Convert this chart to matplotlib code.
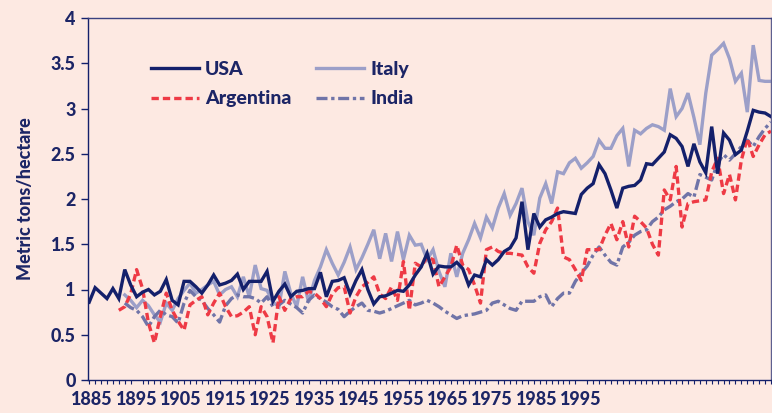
import numpy as np
import matplotlib
matplotlib.use("Agg")
import matplotlib.pyplot as plt

years = np.arange(1885, 2001)

usa = [0.86, 1.02, 0.96, 0.90, 1.01, 0.90, 1.22, 1.05, 0.92, 0.97,
       1.00, 0.94, 0.98, 1.11, 0.88, 0.83, 1.09, 1.09, 1.03, 0.96,
       1.05, 1.16, 1.05, 1.07, 1.10, 1.17, 1.00, 1.09, 1.09, 1.09,
       1.20, 0.87, 0.98, 1.06, 0.92, 0.98, 0.99, 1.01, 1.01, 1.19,
       0.92, 1.09, 1.10, 1.13, 0.95, 1.10, 1.22, 1.00, 0.84, 0.92,
       0.93, 0.96, 0.99, 0.98, 1.05, 1.16, 1.25, 1.40, 1.17, 1.26,
       1.25, 1.25, 1.30, 1.23, 1.05, 1.16, 1.14, 1.33, 1.27, 1.33,
       1.42, 1.46, 1.57, 1.97, 1.44, 1.84, 1.69, 1.77, 1.80, 1.84,
       1.86, 1.85, 1.84, 2.05, 2.12, 2.17, 2.38, 2.28, 2.10, 1.90,
       2.12, 2.14, 2.15, 2.21, 2.39, 2.38, 2.45, 2.52, 2.71, 2.67,
       2.58, 2.36, 2.61, 2.41, 2.29, 2.80, 2.28, 2.73, 2.65, 2.49,
       2.54, 2.75, 2.98, 2.96, 2.95, 2.91]

italy_start = 1891
italy = [0.94, 0.88, 0.80, 0.88, 0.82, 0.72, 0.64, 0.85, 0.77, 0.90,
         0.99, 1.07, 0.96, 1.00, 1.05, 1.09, 0.94, 1.00, 1.03, 0.92,
         1.14, 0.92, 1.27, 1.01, 0.99, 0.86, 0.81, 1.20, 0.96, 0.81,
         1.14, 0.86, 1.10, 1.25, 1.44, 1.29, 1.16, 1.30, 1.47, 1.22,
         1.35, 1.50, 1.66, 1.34, 1.62, 1.31, 1.64, 1.33, 1.60, 1.49,
         1.50, 1.33, 1.44, 1.20, 1.03, 1.40, 1.14, 1.40, 1.55, 1.73,
         1.57, 1.80, 1.68, 1.90, 2.06, 1.82, 1.95, 2.12, 1.75, 1.60,
         2.01, 2.17, 1.95, 2.30, 2.28, 2.40, 2.45, 2.34, 2.40, 2.47,
         2.65, 2.56, 2.56, 2.70, 2.78, 2.36, 2.76, 2.72, 2.78, 2.82,
         2.80, 2.76, 3.22, 2.91, 3.00, 3.17, 2.90, 2.60, 3.17, 3.59,
         3.65, 3.72, 3.55, 3.30, 3.39, 2.96, 3.70, 3.31, 3.30, 3.30]

argentina_start = 1890
argentina = [0.77, 0.81, 0.95, 1.22, 1.01, 0.63, 0.41, 0.70, 0.96, 0.77,
             0.65, 0.55, 0.83, 0.88, 0.92, 0.72, 0.85, 0.96, 0.81, 0.70,
             0.71, 0.75, 0.81, 0.50, 0.81, 0.70, 0.41, 0.92, 0.77, 0.90,
             0.92, 0.92, 0.98, 0.96, 0.90, 0.81, 0.95, 1.02, 1.03, 0.74,
             0.92, 1.03, 1.08, 1.14, 0.95, 0.90, 1.03, 0.88, 1.31, 0.77,
             1.29, 1.25, 1.36, 1.33, 1.03, 1.14, 1.25, 1.49, 1.27, 1.22,
             1.05, 0.85, 1.44, 1.47, 1.42, 1.40, 1.40, 1.39, 1.38, 1.25,
             1.18, 1.51, 1.66, 1.75, 1.90, 1.36, 1.33, 1.22, 1.10, 1.44,
             1.44, 1.44, 1.60, 1.73, 1.55, 1.75, 1.47, 1.81, 1.75, 1.68,
             1.50, 1.38, 2.10, 1.99, 2.36, 1.69, 1.95, 1.97, 1.98, 1.99,
             2.30, 2.45, 2.06, 2.27, 1.99, 2.43, 2.67, 2.47, 2.60, 2.71,
             2.75]

india_start = 1891
india = [0.85, 0.80, 0.77, 0.70, 0.59, 0.70, 0.77, 0.72, 0.70, 0.63,
         0.85, 0.99, 0.92, 0.88, 0.79, 0.72, 0.64, 0.82, 0.90, 0.94,
         0.92, 0.92, 0.90, 0.85, 0.92, 0.81, 0.83, 0.88, 0.84, 0.80,
         0.74, 0.88, 0.94, 0.90, 0.86, 0.81, 0.78, 0.70, 0.76, 0.81,
         0.85, 0.77, 0.76, 0.74, 0.76, 0.79, 0.82, 0.85, 0.88, 0.83,
         0.85, 0.88, 0.85, 0.81, 0.76, 0.72, 0.68, 0.71, 0.72, 0.73,
         0.75, 0.77, 0.85, 0.87, 0.83, 0.79, 0.77, 0.87, 0.87, 0.87,
         0.92, 0.94, 0.81, 0.90, 0.96, 0.96, 1.09, 1.18, 1.26, 1.38,
         1.47, 1.38, 1.30, 1.27, 1.47, 1.52, 1.60, 1.64, 1.66, 1.75,
         1.80, 1.88, 1.92, 1.97, 2.00, 2.06, 2.02, 2.27, 2.24, 2.21,
         2.40, 2.49, 2.43, 2.50, 2.58, 2.65, 2.58, 2.69, 2.78, 2.85]

xtick_labels = ["1885", "1895", "1905", "1915", "1925", "1935",
                "1945", "1955", "1965", "1975", "1985", "1995"]
ytick_values = [0, 0.5, 1, 1.5, 2, 2.5, 3, 3.5, 4]
ytick_labels = ["0", "0.5", "1", "1.5", "2", "2.5", "3", "3.5", "4"]

BG = "#fde9e2"
NAVY = "#14206b"
TEXT = "#1c2566"
ITALY_C = "#9c9fc8"
ARG_C = "#ee3a45"
INDIA_C = "#7074a8"
W = 900

plt.rcParams['font.family'] = ['Lato', 'DejaVu Sans']

fig = plt.figure(figsize=(7.72, 4.13), dpi=100, facecolor=BG)
ax = fig.add_axes([88 / 772, 33 / 413, 683 / 772, 362 / 413])
ax.set_facecolor(BG)

yrs_it = np.arange(italy_start, italy_start + len(italy))
yrs_ar = np.arange(argentina_start, argentina_start + len(argentina))
yrs_in = np.arange(india_start, india_start + len(india))

lw = 2.4
ax.plot(yrs_it, italy, color=ITALY_C, lw=lw, label="Italy", zorder=2,
        solid_joinstyle="miter")
ax.plot(yrs_in, india, color=INDIA_C, lw=lw, label="India", zorder=3,
        dashes=(3.3, 1.1, 1.0, 1.1))
ax.plot(yrs_ar, argentina, color=ARG_C, lw=lw, label="Argentina", zorder=4,
        dashes=(2.2, 1.2))
ax.plot(years, usa, color=NAVY, lw=lw, label="USA", zorder=5,
        solid_joinstyle="miter")

ax.set_xlim(1884.8, 2000.0)
ax.set_ylim(0, 4)

ax.set_yticks(ytick_values)
ax.set_yticklabels(ytick_labels)
ax.tick_params(axis='y', direction='out', length=5, width=1, color=NAVY,
               labelsize=13, labelcolor=TEXT, pad=4)
for lab in ax.get_yticklabels():
    lab.set_fontweight(W)

ax.set_xticks(np.arange(1885, 2001), minor=True)
xpos = [1885.5 + 7.5 * k for k in range(len(xtick_labels))]
ax.set_xticks(xpos)
ax.set_xticklabels(xtick_labels)
ax.tick_params(axis='x', which='major', length=0, labelsize=13,
               labelcolor=TEXT, pad=8)
ax.tick_params(axis='x', which='minor', direction='out', length=3,
               width=0.8, color=NAVY)
for lab in ax.get_xticklabels():
    lab.set_fontweight(W)

for side in ['left', 'bottom', 'top', 'right']:
    ax.spines[side].set_color(NAVY)
    ax.spines[side].set_linewidth(1.0)
ax.spines['right'].set_color("#5e6090")
ax.spines['top'].set_color("#3a4180")

ax.set_ylabel("Metric tons/hectare", fontsize=13, fontweight=W,
              color=TEXT, labelpad=12)

h = {l.get_label(): l for l in ax.get_lines()}
order = ["USA", "Argentina", "Italy", "India"]
leg = ax.legend([h[k] for k in order], order, ncol=2, loc='upper left',
                bbox_to_anchor=(0.066, 0.93), frameon=False,
                handlelength=2.5, handletextpad=0.3, columnspacing=1.25,
                labelspacing=0.65, prop={'weight': W, 'size': 14})
for t in leg.get_texts():
    t.set_color(TEXT)

fig.savefig("out.png", dpi=100, facecolor=BG)
